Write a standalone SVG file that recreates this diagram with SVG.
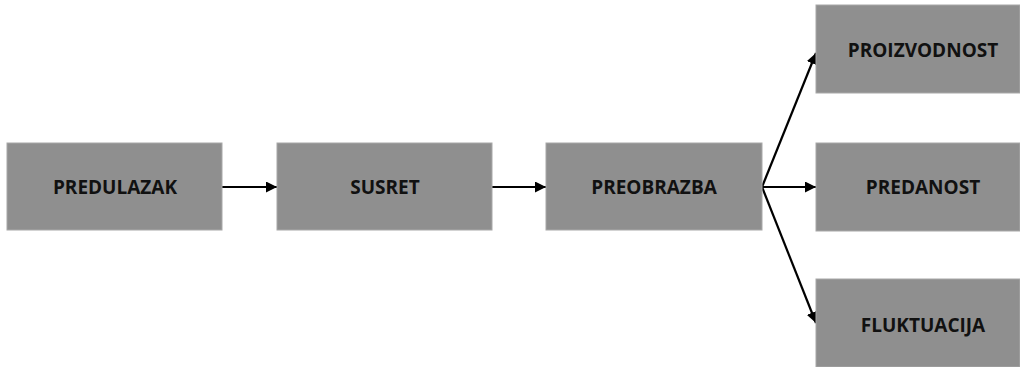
<svg xmlns="http://www.w3.org/2000/svg" width="1020" height="367" viewBox="0 0 1020 367">
<style>
.box{fill:#8f8f8f;stroke:#a8a8a8;stroke-width:1}
.lbl{font-family:"Open Sans","Liberation Sans",sans-serif;font-weight:bold;font-size:19px;fill:#111;text-anchor:middle;dominant-baseline:central}
.con{stroke:#000;stroke-width:2.2;fill:none;marker-end:url(#ah)}
</style>
<defs>
<marker id="ah" viewBox="0 0 10 10" refX="10" refY="5" markerWidth="5" markerHeight="5" orient="auto" markerUnits="strokeWidth">
<path d="M0,0 L10,5 L0,10 z" fill="#000"/>
</marker>
</defs>
<rect width="1020" height="367" fill="#fff"/>
<g id="connectors">
<line class="con" x1="222" y1="187" x2="277" y2="187"/>
<line class="con" x1="492" y1="187" x2="546" y2="187"/>
<line class="con" x1="762" y1="187" x2="816" y2="53"/>
<line class="con" x1="762" y1="187" x2="816" y2="187"/>
<line class="con" x1="762" y1="187" x2="816" y2="323"/>
</g>
<g id="predulazak"><rect class="box" x="7" y="143" width="215" height="87"/><text class="lbl" x="115" y="187">PREDULAZAK</text></g>
<g id="susret"><rect class="box" x="277" y="143" width="215" height="87"/><text class="lbl" x="385" y="187">SUSRET</text></g>
<g id="preobrazba"><rect class="box" x="546" y="143" width="216" height="87"/><text class="lbl" x="654" y="187">PREOBRAZBA</text></g>
<g id="proizvodnost"><rect class="box" x="816" y="5" width="204" height="88"/><text class="lbl" x="923" y="50">PROIZVODNOST</text></g>
<g id="predanost"><rect class="box" x="816" y="143" width="204" height="88"/><text class="lbl" x="923" y="187">PREDANOST</text></g>
<g id="fluktuacija"><rect class="box" x="816" y="279" width="204" height="88"/><text class="lbl" x="923" y="325">FLUKTUACIJA</text></g>
</svg>
